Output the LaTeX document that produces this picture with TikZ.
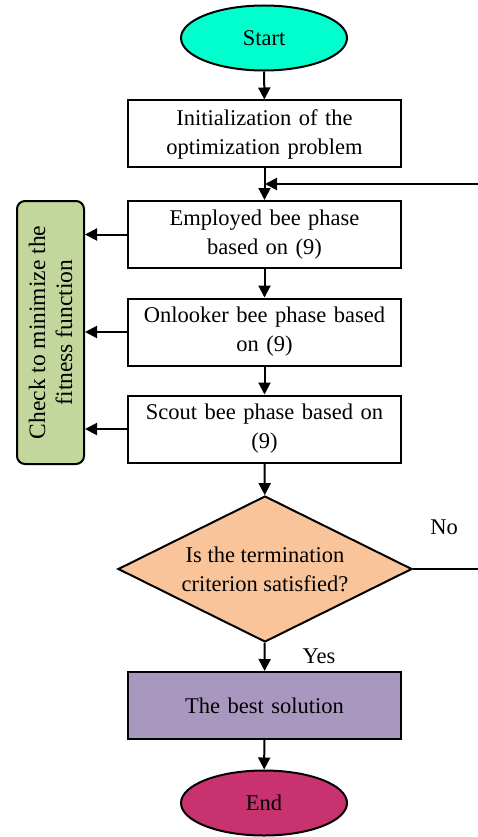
\documentclass[tikz,border=0pt]{standalone}
\usepackage{fontspec}
\setmainfont{Liberation Serif}
\usetikzlibrary{shapes.geometric,arrows.meta}
\definecolor{startc}{HTML}{00FFCC}
\definecolor{diac}{HTML}{F9C499}
\definecolor{bestc}{HTML}{A898BF}
\definecolor{endc}{HTML}{C8336F}
\definecolor{greenc}{HTML}{C3D69B}
\tikzset{
  box/.style={draw, line width=2pt, minimum width=273pt, minimum height=67pt, inner sep=2pt, align=center, text width=266pt, font=\fontsize{22.5}{29}\selectfont},
  term/.style={draw, line width=2pt, ellipse, minimum width=166pt, minimum height=65pt, inner sep=0pt, font=\fontsize{22.5}{29}\selectfont},
  arr/.style={line width=2pt, -{Triangle[length=12pt,width=12pt]}},
  lbl/.style={font=\fontsize{22.5}{29}\selectfont, inner sep=0pt}
}
\begin{document}
\begin{tikzpicture}[x=1pt,y=-1pt]
\useasboundingbox (0,0) rectangle (477,837);
\node[term, fill=startc] (start) at (264,38) {Start};
\node[box] (init) at (264.5,134) {Initialization of the\\optimization problem};
\node[box] (emp) at (264.5,234.5) {Employed bee phase\\based on (9)};
\node[box] (onl) at (264.5,332) {Onlooker bee phase based\\on (9)};
\node[box] (sco) at (264.5,429) {Scout bee phase based on\\(9)};
\node[draw, line width=2pt, diamond, aspect=2, fill=diac, minimum width=294pt, minimum height=146pt, inner sep=0pt, align=center, font=\fontsize{22.5}{29}\selectfont] (dia) at (265,569) {Is the termination\\criterion satisfied?};
\node[box, fill=bestc] (best) at (264.5,705.5) {The best solution};
\node[term, fill=endc] (end) at (264,803) {End};
\node[draw, line width=2pt, rounded corners=8pt, fill=greenc, rotate=90, minimum width=263pt, minimum height=67pt, inner sep=2pt, align=center, font=\fontsize{23.5}{27}\selectfont] (chk) at (50.5,332.5) {Check to minimize the\\fitness function};
\node[lbl] (no) at (444,527) {No};
\node[lbl] (yes) at (319,656) {Yes};
\coordinate (r1) at (478.5,569);
\coordinate (r2) at (478.5,184);
\coordinate (j) at (265,184);
\draw[arr] (start) -- (init);
\draw[arr] (init) -- (emp);
\draw[arr] (emp) -- (onl);
\draw[arr] (onl) -- (sco);
\draw[arr] (sco) -- (dia);
\draw[arr] (dia) -- (best);
\draw[arr] (best) -- (end);
\draw[arr] (dia.east) -- (r1) -- (r2) -- (j);
\draw[arr] (emp.west) -- (chk.south |- emp.west);
\draw[arr] (onl.west) -- (chk.south |- onl.west);
\draw[arr] (sco.west) -- (chk.south |- sco.west);
\end{tikzpicture}
\end{document}
